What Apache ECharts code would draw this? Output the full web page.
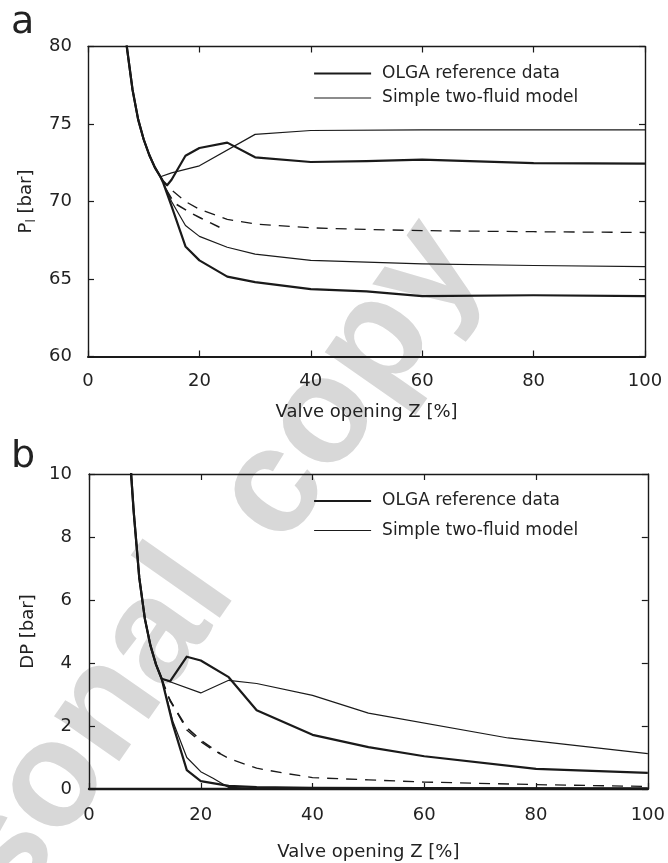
<!DOCTYPE html>
<html>
<head>
<meta charset="utf-8">
<script src="https://cdn.jsdelivr.net/npm/echarts@6/dist/echarts.min.js"></script>
<style>
  html, body { margin: 0; padding: 0; background: #ffffff; }
  #chart { width: 668px; height: 863px; }
</style>
</head>
<body>
<div id="chart"></div>
<script>
// Valve opening axis (shared by both panels)
const zTicks = [0, 20, 40, 60, 80, 100];
// Panel a: inlet pressure P_l [bar]
const plTicks = [60, 65, 70, 75, 80];
// Panel b: pressure drop DP [bar]
const dpTicks = [0, 2, 4, 6, 8, 10];

const seriesNames = ['OLGA reference data', 'Simple two-fluid model'];

// ---- Panel a : [Z %, P_l bar] ----
// steep branch at small openings, common to all curves
const steepA = [[6, 84.0], [7, 79.9], [8, 77.2], [9, 75.3], [10, 74.0], [11, 73.0], [12, 72.2], [13, 71.6]];
const olgaUpperA = [[13.5, 71.3], [14.2, 71.05], [15, 71.4], [17.5, 72.95], [20, 73.45], [25, 73.8], [30, 72.85], [40, 72.55], [50, 72.6], [60, 72.7], [80, 72.48], [100, 72.44]];
const olgaLowerA = [[13.5, 71.2], [15, 69.7], [17.5, 67.1], [20, 66.2], [25, 65.15], [30, 64.8], [40, 64.35], [50, 64.2], [60, 63.9], [80, 63.95], [100, 63.9]];
const modelUpperA = [[15, 71.85], [20, 72.3], [30, 74.33], [40, 74.58], [60, 74.62], [80, 74.62], [100, 74.62]];
const modelLowerA = [[13.5, 71.25], [15, 70.0], [17.5, 68.45], [20, 67.75], [25, 67.05], [30, 66.6], [40, 66.2], [60, 65.97], [80, 65.87], [100, 65.8]];
const dashedLongA = [[13, 71.6], [13.5, 71.3], [15, 70.75], [17.5, 70.0], [20, 69.5], [25, 68.85], [30, 68.55], [40, 68.3], [50, 68.2], [60, 68.12], [80, 68.05], [100, 68.0]];
const dashedShortA = [[14, 70.8], [15.5, 69.9], [18.5, 69.25], [20.3, 68.92], [23.6, 68.34]];

// ---- Panel b : [Z %, DP bar] ----
const steepB = [[6, 15.5], [7, 11.5], [7.5, 10.1], [8, 8.8], [9, 6.7], [10, 5.4], [11, 4.55], [12, 3.95], [13, 3.5]];
const olgaUpperB = [[14.5, 3.42], [17.5, 4.2], [20, 4.08], [25, 3.55], [30, 2.5], [40, 1.72], [50, 1.33], [60, 1.04], [80, 0.64], [100, 0.51]];
const olgaLowerB = [[15, 2.05], [17.5, 0.6], [20, 0.25], [25, 0.1], [30, 0.06], [40, 0.04], [60, 0.03], [100, 0.02]];
const modelUpperB = [[20, 3.05], [25, 3.45], [30, 3.35], [40, 2.97], [50, 2.41], [75, 1.62], [100, 1.12]];
const modelLowerB = [[15, 2.15], [17.5, 1.0], [20, 0.55], [22.2, 0.34], [25, 0.05], [30, 0.02], [40, 0.01], [100, 0.0]];
const dashedLongB = [[13, 3.5], [14, 3.0], [17.5, 1.87], [20, 1.5], [22.2, 1.24], [25, 0.97], [30, 0.66], [35, 0.5], [40, 0.36], [50, 0.29], [60, 0.22], [80, 0.14], [100, 0.08]];
const dashedShortB = [[13, 3.5], [14.5, 2.8], [17.5, 1.95], [20, 1.55], [23.5, 1.12]];

const FONT = 'DejaVu Sans';
const INK = '#1a1a1a';
const TXT = '#222222';
const THICK = 2.2;
const THIN = 1.2;

function lineSeries(name, data, axisIdx, width, dashed) {
  return {
    name: name,
    type: 'line',
    xAxisIndex: axisIdx,
    yAxisIndex: axisIdx,
    data: data,
    symbol: 'none',
    clip: true,
    silent: true,
    animation: false,
    lineStyle: { color: INK, width: width, type: dashed ? [11, 8] : 'solid', cap: 'butt', join: 'round' },
    itemStyle: { color: INK },
    z: 3
  };
}

function range(ticks) {
  return { min: ticks[0], max: ticks[ticks.length - 1], interval: ticks[1] - ticks[0] };
}

function axisCommon(ticks, gridIndex, position, lineWidth, showLabel, margin) {
  const r = range(ticks);
  return {
    type: 'value',
    gridIndex: gridIndex,
    position: position,
    min: r.min, max: r.max, interval: r.interval,
    splitLine: { show: false },
    axisLine: { show: true, onZero: false, lineStyle: { color: INK, width: lineWidth } },
    axisTick: { show: true, inside: true, length: 6, lineStyle: { color: INK, width: 1.2 } },
    axisLabel: { show: showLabel, margin: margin, fontFamily: FONT, fontSize: 18, color: TXT },
    nameTextStyle: { fontFamily: FONT, fontSize: 18, color: TXT }
  };
}

const xAxes = [
  Object.assign(axisCommon(zTicks, 0, 'bottom', 2.2, true, 16), { name: 'Valve opening Z [%]', nameLocation: 'middle', nameGap: 47 }),
  axisCommon(zTicks, 0, 'top', 1.4, false, 8),
  Object.assign(axisCommon(zTicks, 1, 'bottom', 2.4, true, 17), { name: 'Valve opening Z [%]', nameLocation: 'middle', nameGap: 54 }),
  axisCommon(zTicks, 1, 'top', 1.4, false, 8)
];

const plName = Object.assign(axisCommon(plTicks, 0, 'left', 1.4, true, 16), {
  name: '{b|P}{s|l}{b| [bar]}', nameLocation: 'middle', nameGap: 50,
  nameTextStyle: {
    fontFamily: FONT, fontSize: 18, color: TXT,
    rich: {
      b: { fontFamily: FONT, fontSize: 18, color: TXT, lineHeight: 24 },
      s: { fontFamily: FONT, fontSize: 12, color: TXT, lineHeight: 24, verticalAlign: 'bottom' }
    }
  }
});

const yAxes = [
  plName,
  axisCommon(plTicks, 0, 'right', 1.4, false, 8),
  Object.assign(axisCommon(dpTicks, 1, 'left', 1.4, true, 17), { name: 'DP [bar]', nameLocation: 'middle', nameGap: 52 }),
  axisCommon(dpTicks, 1, 'right', 1.4, false, 8)
];

// legend entries: plain line samples, thick for OLGA, thin for the model
const legendEntries = [
  { name: seriesNames[0], lineStyle: { width: THICK, color: INK }, itemStyle: { color: 'rgba(0,0,0,0)', borderWidth: 0 } },
  { name: seriesNames[1], lineStyle: { width: THIN, color: INK }, itemStyle: { color: 'rgba(0,0,0,0)', borderWidth: 0 } }
];

function legendFor(top, gap) {
  return {
    left: 308, top: top, orient: 'vertical',
    itemWidth: 57, itemHeight: 14, itemGap: gap,
    selectedMode: false,
    data: legendEntries,
    textStyle: { fontFamily: FONT, fontSize: 17, color: TXT, padding: [0, 0, 0, 6] }
  };
}

// diagonal grey watermark, drawn underneath everything else
function watermarkWord(text, x, y) {
  return {
    type: 'text',
    x: x, y: y,
    rotation: 55 * Math.PI / 180,
    z: -10,
    silent: true,
    style: {
      text: text,
      font: 'bold 150px "Liberation Sans"',
      fill: '#d8d8d8',
      align: 'center',
      verticalAlign: 'middle'
    }
  };
}

const option = {
  animation: false,
  backgroundColor: '#ffffff',
  title: [
    { text: 'a', left: 11, top: 4, padding: 0, textStyle: { fontFamily: FONT, fontSize: 38, fontWeight: 'normal', color: TXT } },
    { text: 'b', left: 11, top: 438, padding: 0, textStyle: { fontFamily: FONT, fontSize: 38, fontWeight: 'normal', color: TXT } }
  ],
  graphic: [
    watermarkWord('Personal', 22, 828),
    watermarkWord('copy', 350, 382)
  ],
  legend: [legendFor(60, 7.5), legendFor(487.5, 12.5)],
  grid: [
    { left: 88, top: 46.5, width: 557, height: 310, containLabel: false },
    { left: 89, top: 474, width: 561, height: 315, containLabel: false }
  ],
  xAxis: xAxes,
  yAxis: yAxes,
  series: [
    lineSeries(seriesNames[0], steepA.concat(olgaUpperA), 0, THICK, false),
    lineSeries(seriesNames[0], steepA.concat(olgaLowerA), 0, THICK, false),
    lineSeries(seriesNames[1], steepA.concat(modelUpperA), 0, THIN, false),
    lineSeries(seriesNames[1], steepA.concat(modelLowerA), 0, THIN, false),
    lineSeries('dashed long a', dashedLongA, 0, 1.3, true),
    lineSeries('dashed short a', dashedShortA, 0, 1.6, true),

    lineSeries(seriesNames[0], steepB.concat(olgaUpperB), 2, THICK, false),
    lineSeries(seriesNames[0], steepB.concat(olgaLowerB), 2, THICK, false),
    lineSeries(seriesNames[1], steepB.concat(modelUpperB), 2, THIN, false),
    lineSeries(seriesNames[1], steepB.concat(modelLowerB), 2, THIN, false),
    lineSeries('dashed long b', dashedLongB, 2, 1.3, true),
    lineSeries('dashed short b', dashedShortB, 2, 1.6, true)
  ]
};

const chart = echarts.init(document.getElementById('chart'), null, { renderer: 'canvas' });
chart.setOption(option);
</script>
</body>
</html>
